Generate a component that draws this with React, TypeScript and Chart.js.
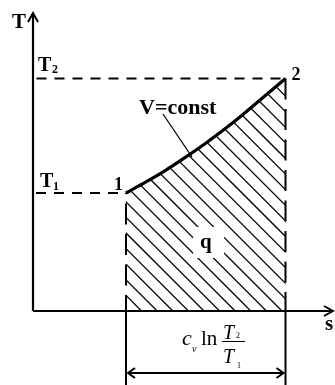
import { useEffect, useRef } from 'react';
import { Chart, registerables } from 'chart.js';

Chart.register(...registerables);

// Process curve V = const on the T-s diagram (data units 0..100 on both axes)
const S_VALUES = [31.0, 37.67, 44.33, 51.0, 57.67, 64.33, 71.0, 77.67, 84.17];
const T_VALUES = [39.6, 43.3, 47.3, 51.7, 56.4, 61.4, 66.8, 72.5, 78.0];
const S1 = 31.0;
const S2 = 84.17;
const T1 = 39.6;
const T2 = 78.0;
const HATCH_START = 36.2;
const HATCH_STEP = 5.2;

const SERIF = '"Liberation Serif", "Times New Roman", serif';

const diagramPlugin = {
  id: 'tsDiagram',
  beforeDatasetsDraw(chart: any) {
    const { ctx, scales } = chart;
    const xs = scales.x;
    const ys = scales.y;
    const px = (v: number) => xs.getPixelForValue(v);
    const py = (v: number) => ys.getPixelForValue(v);
    const line = chart.getDatasetMeta(0).dataset;

    ctx.save();
    ctx.beginPath();
    if (line && typeof line.path === 'function') {
      line.path(ctx);
    } else {
      S_VALUES.forEach((s, i) => {
        if (i === 0) ctx.moveTo(px(s), py(T_VALUES[i]));
        else ctx.lineTo(px(s), py(T_VALUES[i]));
      });
    }
    ctx.lineTo(px(S2), py(0));
    ctx.lineTo(px(S1), py(0));
    ctx.closePath();
    ctx.clip();

    ctx.strokeStyle = '#000';
    ctx.lineWidth = 1.3;
    const y0 = py(0);
    for (let k = -25; k <= 25; k++) {
      const x0 = px(HATCH_START + k * HATCH_STEP);
      ctx.beginPath();
      ctx.moveTo(x0 - 320, y0 - 320);
      ctx.lineTo(x0 + 80, y0 + 80);
      ctx.stroke();
    }
    ctx.restore();

    // white patch behind the "q" label
    const qx = px(55.7);
    const qy = py(22.5);
    ctx.save();
    ctx.fillStyle = '#fff';
    ctx.fillRect(qx - 7, qy - 17, 31, 31);
    ctx.restore();
  },
  afterDatasetsDraw(chart: any) {
    const { ctx, scales, chartArea } = chart;
    const xs = scales.x;
    const ys = scales.y;
    const px = (v: number) => xs.getPixelForValue(v);
    const py = (v: number) => ys.getPixelForValue(v);
    const ox = px(0);
    const oy = py(0);
    const xEnd = chartArea.right;
    const yTop = chartArea.top;
    const x1 = px(S1);
    const x2 = px(S2);
    const y1 = py(T1);
    const y2 = py(T2);
    const bottom = chart.height;

    ctx.save();
    ctx.strokeStyle = '#000';
    ctx.fillStyle = '#000';
    ctx.lineCap = 'butt';

    // dashed helper lines
    ctx.lineWidth = 2;
    ctx.setLineDash([10, 8]);
    ctx.lineDashOffset = 13;
    ctx.beginPath();
    ctx.moveTo(x2, y2);
    ctx.lineTo(ox, y2);
    ctx.stroke();
    ctx.lineDashOffset = 10;
    ctx.beginPath();
    ctx.moveTo(x1, y1);
    ctx.lineTo(ox, y1);
    ctx.stroke();

    ctx.setLineDash([21, 9.5]);
    ctx.lineDashOffset = 0;
    ctx.beginPath();
    ctx.moveTo(x2, y2);
    ctx.lineTo(x2, oy);
    ctx.stroke();
    ctx.lineDashOffset = 5;
    ctx.beginPath();
    ctx.moveTo(x1, oy);
    ctx.lineTo(x1, y1);
    ctx.stroke();
    ctx.setLineDash([]);

    // axes
    ctx.lineWidth = 2.2;
    ctx.beginPath();
    ctx.moveTo(ox, oy);
    ctx.lineTo(ox, yTop);
    ctx.moveTo(ox, oy);
    ctx.lineTo(xEnd, oy);
    ctx.stroke();
    ctx.lineWidth = 2;
    ctx.beginPath();
    ctx.moveTo(ox - 5, yTop + 9);
    ctx.lineTo(ox, yTop);
    ctx.lineTo(ox + 5, yTop + 9);
    ctx.moveTo(xEnd - 9, oy - 5);
    ctx.lineTo(xEnd, oy);
    ctx.lineTo(xEnd - 9, oy + 5);
    ctx.stroke();

    // extension lines below the s axis
    ctx.lineWidth = 2;
    ctx.beginPath();
    ctx.moveTo(x1, oy);
    ctx.lineTo(x1, bottom);
    ctx.moveTo(x2, oy);
    ctx.lineTo(x2, bottom);
    ctx.stroke();

    // double arrow
    const ay = oy + 62;
    ctx.lineWidth = 2;
    ctx.beginPath();
    ctx.moveTo(x1 + 2, ay);
    ctx.lineTo(x2 - 2, ay);
    ctx.stroke();
    ctx.beginPath();
    ctx.moveTo(x1 + 9, ay - 5);
    ctx.lineTo(x1 + 2, ay);
    ctx.lineTo(x1 + 9, ay + 5);
    ctx.moveTo(x2 - 9, ay - 5);
    ctx.lineTo(x2 - 2, ay);
    ctx.lineTo(x2 - 9, ay + 5);
    ctx.stroke();

    // leader line for V=const
    ctx.lineWidth = 1.3;
    ctx.beginPath();
    ctx.moveTo(163, 114);
    ctx.lineTo(192, 157);
    ctx.stroke();

    // labels
    ctx.textBaseline = 'alphabetic';
    ctx.textAlign = 'left';
    ctx.font = `bold 21px ${SERIF}`;
    ctx.fillText('T', 12, 28);

    ctx.font = `bold 20px ${SERIF}`;
    ctx.fillText('T', 38, y2 - 8);
    ctx.font = `bold 12px ${SERIF}`;
    ctx.fillText('2', 52, y2 - 6);

    ctx.font = `bold 20px ${SERIF}`;
    ctx.fillText('T', 40, y1 - 6);
    ctx.font = `bold 12px ${SERIF}`;
    ctx.fillText('1', 53, y1 - 3);

    ctx.font = `bold 18px ${SERIF}`;
    ctx.fillText('1', x1 - 12, y1 - 3);
    ctx.fillText('2', x2 + 6, y2 + 1);

    ctx.font = `bold 22px ${SERIF}`;
    ctx.fillText('V=const', 139, 114);

    ctx.font = `bold 21px ${SERIF}`;
    ctx.fillText('q', px(55.7), py(22.5) + 4);

    ctx.font = `bold 21px ${SERIF}`;
    ctx.fillText('s', 325, oy + 19);

    // formula c_v ln T2/T1
    ctx.font = `italic 22px ${SERIF}`;
    ctx.fillText('c', 182, 345);
    ctx.font = `italic 10px ${SERIF}`;
    ctx.fillText('v', 192, 352);
    ctx.font = `21px ${SERIF}`;
    ctx.fillText('ln', 201, 345);
    ctx.font = `italic 20px ${SERIF}`;
    ctx.fillText('T', 223, 339);
    ctx.fillText('T', 223, 363);
    ctx.font = `8px ${SERIF}`;
    ctx.fillText('2', 236, 338);
    ctx.fillText('1', 237, 368);
    ctx.lineWidth = 1;
    ctx.beginPath();
    ctx.moveTo(222, 341.5);
    ctx.lineTo(245, 341.5);
    ctx.stroke();

    ctx.restore();
  },
};

export default function App() {
  const canvasRef = useRef<HTMLCanvasElement | null>(null);

  useEffect(() => {
    const canvas = canvasRef.current;
    if (!canvas) return;
    const chart = new Chart(canvas, {
      type: 'line',
      data: {
        datasets: [
          {
            data: S_VALUES.map((s, i) => ({ x: s, y: T_VALUES[i] })),
            borderColor: '#000',
            borderWidth: 3.2,
            pointRadius: 0,
            cubicInterpolationMode: 'monotone',
            fill: false,
            clip: false as any,
          },
        ],
      },
      options: {
        responsive: false,
        animation: false,
        layout: { padding: { left: 33, right: 2, top: 13, bottom: 74 } },
        plugins: {
          legend: { display: false },
          tooltip: { enabled: false },
        },
        events: [],
        scales: {
          x: { type: 'linear', min: 0, max: 100, display: false },
          y: { type: 'linear', min: 0, max: 100, display: false },
        },
      },
      plugins: [diagramPlugin],
    });
    return () => chart.destroy();
  }, []);

  return (
    <div style={{ position: 'absolute', left: 0, top: 0, width: 335, height: 385, background: '#fff' }}>
      <canvas ref={canvasRef} width={335} height={385} />
    </div>
  );
}
